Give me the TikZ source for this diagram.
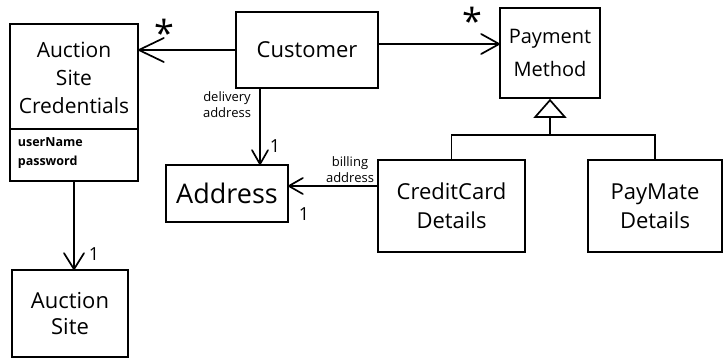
\documentclass[tikz,border=0pt]{standalone}
\usepackage{fontspec}
\setmainfont{Open Sans}
\usetikzlibrary{arrows.meta}
\begin{document}
\begin{tikzpicture}[x=1pt,y=-1pt, line width=1.7pt,
 box/.style={draw, rectangle, inner sep=0pt, line width=1.7pt, align=center, font=\fontsize{21}{30}\selectfont},
 lbl/.style={align=center, inner sep=0pt},
 small/.style={align=center, font=\fontsize{13}{16}\selectfont, inner sep=0pt},
 mult/.style={font=\fontsize{18}{18}\selectfont, inner sep=0pt},
 star/.style={font=\fontsize{36}{36}\selectfont, inner sep=0pt},
 barb/.style={line join=round, line cap=round},
 gen/.style={-{Triangle[open,length=19pt,width=33pt]}}]
\useasboundingbox (0,0) rectangle (725,359);
\node[box, minimum width=128pt, minimum height=157pt] (ascbox) at (74,102.5) {};
\node[lbl, font=\fontsize{21}{28}\selectfont] (asctitle) at (74,78) {Auction\\Site\\Credentials};
\node[lbl, align=left, anchor=west, font=\bfseries\fontsize{12.5}{19}\selectfont] (ascattr) at (17,153.5) {userName\\password};
\draw (ascbox.west |- 0,129) -- (ascbox.east |- 0,129);
\node[box, minimum width=142pt, minimum height=76pt, font=\fontsize{22}{30}\selectfont] (customer) at (307,50) {Customer};
\node[box, minimum width=100pt, minimum height=90pt, font=\fontsize{20}{33}\selectfont] (pm) at (550,53) {Payment\\Method};
\node[box, minimum width=122pt, minimum height=57pt, font=\fontsize{27}{30}\selectfont] (address) at (227,193.5) {Address};
\node[box, minimum width=147pt, minimum height=92pt, font=\fontsize{22}{29}\selectfont] (cc) at (451.5,206) {CreditCard\\Details};
\node[box, minimum width=134pt, minimum height=92pt, font=\fontsize{22}{29}\selectfont] (paymate) at (655,206) {PayMate\\Details};
\node[box, minimum width=116pt, minimum height=87pt, font=\fontsize{22}{26}\selectfont] (as) at (70,313.5) {Auction\\Site};
% anchor points for connectors
\coordinate (custE) at ([yshift=6pt]customer.east);
\coordinate (custS) at ([xshift=-47pt]customer.south);
\coordinate (ccW) at ([yshift=20pt]cc.west);
\coordinate (t1) at (ascbox.east |- customer.west);
\coordinate (t2) at (pm.west |- custE);
\coordinate (t3) at (custS |- address.north);
\coordinate (t4) at (address.east |- ccW);
\coordinate (t5) at (ascbox.south |- as.north);
% associations
\draw (customer.west) -- (t1);
\draw[barb] (t1) ++(25,-12) -- (t1) -- ++(25,12);
\draw (custE) -- (t2);
\draw[barb] (t2) ++(-18,-10) -- (t2) -- ++(-18,10);
\draw (custS) -- (t3);
\draw[barb] (t3) ++(-8,-14) -- (t3) -- ++(8,-14);
\draw (ccW) -- (t4);
\draw[barb] (t4) ++(14,-8) -- (t4) -- ++(14,8);
\draw (ascbox.south) -- (t5);
\draw[barb] (t5) ++(-10,-16) -- (t5) -- ++(10,-16);
% generalization
\coordinate (jn) at (550,135);
\draw[gen] (jn) -- (pm.south);
\draw (cc.north) |- (jn) -| (paymate.north);
% labels
\node[star] (s1) at (164,33) {*};
\node[star] (s2) at (472,21) {*};
\node[small] (dl) at (227,105) {delivery\\address};
\node[small] (bl) at (350,170) {billing\\address};
\node[mult] (m1) at (275,146) {1};
\node[mult] (m2) at (304,214) {1};
\node[mult] (m3) at (94,254) {1};
\end{tikzpicture}
\end{document}
